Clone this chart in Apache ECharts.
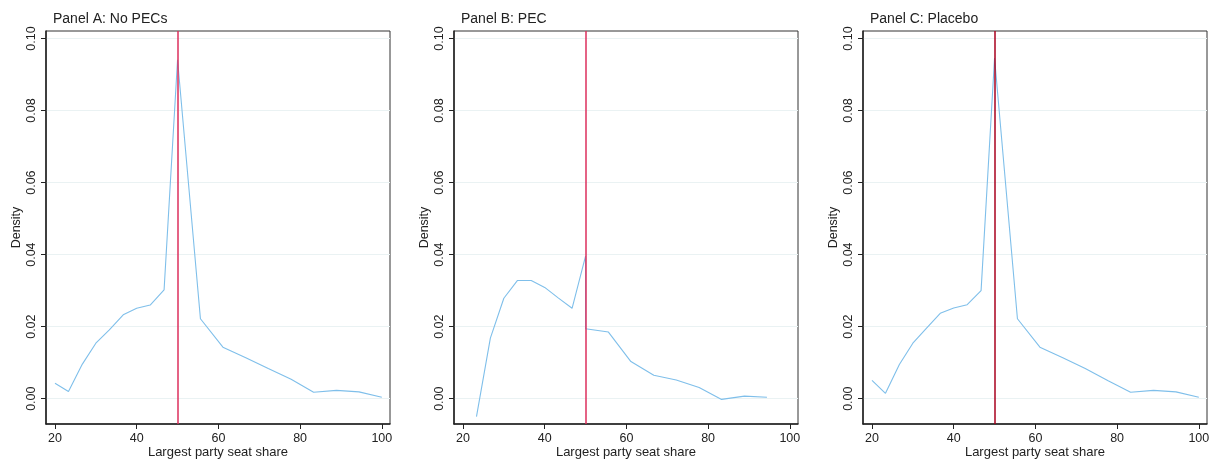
<!DOCTYPE html>
<html>
<head>
<meta charset="utf-8">
<script src="https://cdn.jsdelivr.net/npm/echarts@6/dist/echarts.min.js"></script>
<style>html,body{margin:0;padding:0;background:#fff}#c{width:1210px;height:459px}</style>
</head>
<body>
<div id="c"></div>
<script>
const panelTitles = ['Panel A: No PECs', 'Panel B: PEC', 'Panel C: Placebo'];
const xTicks = [20, 40, 60, 80, 100];
const yTicks = [0, 0.02, 0.04, 0.06, 0.08, 0.10];
const cutoff = 50;

const panelA_x = [20, 23.3, 26.7, 30, 33.3, 36.7, 40, 43.3, 46.7, 50, 55.6, 61.1, 66.7, 72.2, 77.8, 83.3, 88.9, 94.4, 100];
const panelA_y = [0.0043, 0.0020, 0.0096, 0.0154, 0.0191, 0.0233, 0.0251, 0.0260, 0.0302, 0.0941, 0.0222, 0.0143, 0.0114, 0.0084, 0.0054, 0.0018, 0.0023, 0.0019, 0.0004];

const panelB_x = [23.3, 26.7, 30, 33.3, 36.7, 40, 43.3, 46.7, 50, 50, 55.6, 61.1, 66.7, 72.2, 77.8, 83.3, 88.9, 94.4];
const panelB_y = [-0.0050, 0.0168, 0.0279, 0.0328, 0.0328, 0.0309, 0.0280, 0.0251, 0.0396, 0.0194, 0.0185, 0.0103, 0.0065, 0.0052, 0.0031, -0.0002, 0.0007, 0.0004];

const panelC_x = [20, 23.3, 26.7, 30, 33.3, 36.7, 40, 43.3, 46.7, 50, 55.6, 61.1, 66.7, 72.2, 77.8, 83.3, 88.9, 94.4, 100];
const panelC_y = [0.0051, 0.0015, 0.0095, 0.0154, 0.0195, 0.0237, 0.0252, 0.0261, 0.0300, 0.0946, 0.0222, 0.0143, 0.0114, 0.0084, 0.0050, 0.0018, 0.0023, 0.0019, 0.0004];

const panelsX = [panelA_x, panelB_x, panelC_x];
const panelsY = [panelA_y, panelB_y, panelC_y];
const cutoffColors = ['#dc2f5c', '#dc2f5c', '#a8001e'];
const gridLefts = [46, 454, 863];
const FONT = 'Liberation Sans, Arial, Helvetica, sans-serif';

const chart = echarts.init(document.getElementById('c'), null, {renderer: 'canvas'});
const grids = [], xAxes = [], yAxes = [], series = [], titles = [];
for (let i = 0; i < 3; i++) {
  grids.push({left: gridLefts[i], top: 31, width: 344, height: 393, show: true, borderColor: '#333', borderWidth: 1,
    containLabel: false, outerBoundsMode: 'none'});
  titles.push({text: panelTitles[i], left: gridLefts[i] + 2, top: 7, textStyle: {fontFamily: FONT, fontSize: 14, fontWeight: 'normal', color: '#222'}});
  xAxes.push({
    type: 'value', gridIndex: i, min: 17.8, max: 102,
    name: 'Largest party seat share', nameLocation: 'middle', nameGap: 22, nameMoveOverlap: false,
    nameTextStyle: {fontFamily: FONT, fontSize: 13, color: '#222', verticalAlign: 'top'},
    axisLine: {show: true, onZero: false, lineStyle: {color: '#222', width: 1.5}},
    axisTick: {show: true, length: 5, customValues: xTicks, lineStyle: {color: '#222'}},
    axisLabel: {customValues: xTicks, fontFamily: FONT, fontSize: 12.5, color: '#222', margin: 8},
    splitLine: {show: false}
  });
  yAxes.push({
    type: 'value', gridIndex: i, min: -0.00703, max: 0.1021,
    name: 'Density', nameLocation: 'middle', nameGap: 23, nameRotate: 90, nameMoveOverlap: false,
    nameTextStyle: {fontFamily: FONT, fontSize: 12.5, color: '#222'},
    axisLine: {show: true, onZero: false, lineStyle: {color: '#222', width: 1.5}},
    axisTick: {show: true, length: 5, customValues: yTicks, lineStyle: {color: '#222'}},
    axisLabel: {customValues: yTicks, rotate: 90, fontFamily: FONT, fontSize: 12.5, color: '#222', margin: 8,
      formatter: v => v.toFixed(2)},
    splitLine: {show: true, lineStyle: {color: '#eaf2f3', width: 1.2}}
  });
  series.push({
    type: 'line', xAxisIndex: i, yAxisIndex: i, data: [], z: 1, silent: true,
    markLine: {silent: true, symbol: 'none', label: {show: false}, animation: false,
      lineStyle: {color: cutoffColors[i], width: 1.5, type: 'solid'},
      data: [{xAxis: cutoff}]}
  });
  series.push({
    type: 'line', xAxisIndex: i, yAxisIndex: i, z: 3,
    data: panelsX[i].map((x, k) => [x, panelsY[i][k]]),
    showSymbol: false, symbol: 'none', animation: false,
    lineStyle: {color: '#7fbfea', width: 1.1}
  });
}
chart.setOption({
  animation: false,
  backgroundColor: '#fff',
  title: titles,
  grid: grids,
  xAxis: xAxes,
  yAxis: yAxes,
  series: series
});
</script>
</body>
</html>
